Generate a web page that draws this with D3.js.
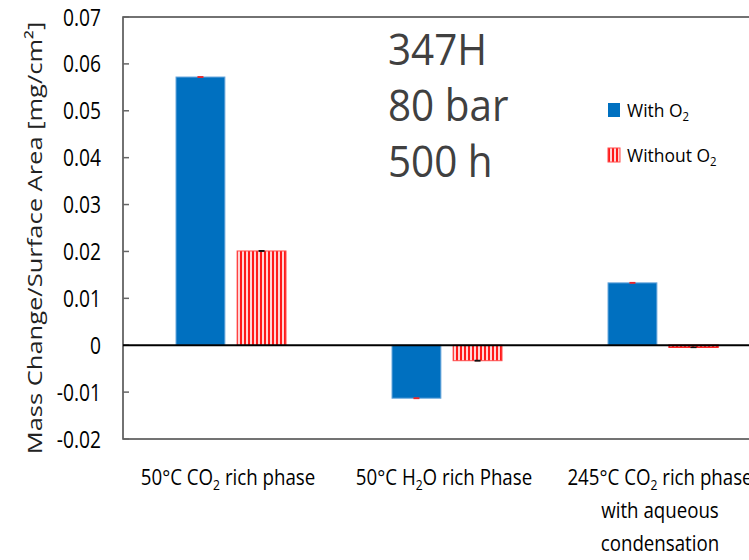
<!DOCTYPE html>
<html>
<head>
<meta charset="utf-8">
<script src="https://cdn.jsdelivr.net/npm/d3@7/dist/d3.min.js"></script>
<style>
  body { margin: 0; background: #fff; }
  svg { display: block; font-family: 'Open Sans', sans-serif; }
</style>
</head>
<body>
<svg id="chart" width="749" height="560"></svg>
<script>
// categories (label lines; middle part of each triple is a subscript)
const categories = ['c1', 'c2', 'c3'];
const categoryLines = [
  [['50°C CO', '2', ' rich phase']],
  [['50°C H', '2', 'O rich Phase']],
  [['245°C CO', '2', ' rich phase'], ['with aqueous'], ['condensation']]
];
const series = ['With O2', 'Without O2'];
const withO2 = [0.0572, -0.0113, 0.0133];
const withoutO2 = [0.0201, -0.0033, -0.0004];
const withO2Err = [0.0002, 0.0002, 0.0002];
const withoutO2Err = [0.0002, 0.0002, 0.0001];
const yTicks = [-0.02, -0.01, 0, 0.01, 0.02, 0.03, 0.04, 0.05, 0.06, 0.07];
const noteLines = ['347H', '80 bar', '500 h'];

const svg = d3.select('#chart');
const plotLeft = 123, plotTop = 17, plotBottom = 439;

const y = d3.scaleLinear().domain([-0.02, 0.07]).range([plotBottom, plotTop]);
const x = d3.scaleBand().domain(categories).range([plotLeft, plotLeft + 3 * 216]);
const xs = d3.scaleBand().domain(series).range([-55, 55]).paddingInner(0.2);

// hatch pattern for "Without O2"
const defs = svg.append('defs');
const pat = defs.append('pattern')
  .attr('id', 'vhatch')
  .attr('patternUnits', 'userSpaceOnUse')
  .attr('width', 4).attr('height', 4);
pat.append('rect').attr('width', 4).attr('height', 4).attr('fill', '#ffd6d6');
pat.append('rect').attr('x', 0).attr('width', 2).attr('height', 4).attr('fill', '#ff1a1a');

// helper: horizontally squeezed text
function sqText(g, xPos, yPos, sx, size, anchor, parts, color) {
  const t = g.append('g')
    .attr('transform', `translate(${xPos},${yPos}) scale(${sx},1)`)
    .append('text')
    .attr('text-anchor', anchor)
    .attr('font-size', size)
    .attr('fill', color || '#000');
  parts.forEach((p, i) => {
    if (i === 1) {
      t.append('tspan').attr('font-size', size * 0.65).attr('dy', size * 0.22).text(p);
    } else if (i === 2) {
      t.append('tspan').attr('dy', -size * 0.22).text(p);
    } else {
      t.append('tspan').text(p);
    }
  });
  return t;
}

// frame
svg.append('rect')
  .attr('x', plotLeft).attr('y', plotTop)
  .attr('width', 800).attr('height', plotBottom - plotTop)
  .attr('fill', 'none')
  .attr('stroke', '#444')
  .attr('stroke-width', 1.5);

// y axis ticks (inside) + labels
const yAxis = svg.append('g');
yTicks.forEach(v => {
  yAxis.append('line')
    .attr('x1', plotLeft).attr('x2', plotLeft + 6)
    .attr('y1', y(v)).attr('y2', y(v))
    .attr('stroke', '#666').attr('stroke-width', 1.5);
  sqText(yAxis, 101, y(v) + 8.5, 0.8, 24, 'end', [v === 0 ? '0' : d3.format('.2f')(v).replace('−', '-')]);
});

// y label
svg.append('g')
  .attr('transform', `translate(42,238) rotate(-90) scale(1,0.8)`)
  .append('text')
  .attr('text-anchor', 'middle')
  .attr('font-size', 25.5)
  .attr('fill', '#222')
  .text('Mass Change/Surface Area [mg/cm²]');

// bars
const rows = categories.map((c, i) => ({ c, vals: [withO2[i], withoutO2[i]], errs: [withO2Err[i], withoutO2Err[i]] }));
const grp = svg.append('g');
rows.forEach(r => {
  const cx = x(r.c) + x.bandwidth() / 2;
  series.forEach((s, j) => {
    const v = r.vals[j];
    const bx = cx + xs(s);
    const y0 = Math.min(y(0), y(v)), h = Math.abs(y(v) - y(0));
    grp.append('rect')
      .attr('x', bx).attr('y', y0)
      .attr('width', xs.bandwidth()).attr('height', Math.max(h, 2))
      .attr('fill', j === 0 ? '#0070c0' : 'url(#vhatch)')
      .attr('stroke', j === 0 ? '#6aa7dc' : (h < 4 ? '#ff2020' : '#ff4d4d'))
      .attr('stroke-width', h < 4 ? 1.5 : 1);
    // error bar
    const ex = bx + xs.bandwidth() / 2;
    const e = r.errs[j];
    grp.append('rect')
      .attr('x', ex - 3).attr('width', 6)
      .attr('y', y(v + e)).attr('height', Math.max(y(v - e) - y(v + e), 1.5))
      .attr('fill', j === 0 ? '#e8262a' : '#111');
  });
});

// zero line
svg.append('line')
  .attr('x1', plotLeft).attr('x2', 749)
  .attr('y1', y(0)).attr('y2', y(0))
  .attr('stroke', '#000').attr('stroke-width', 2);

// category labels
categoryLines.forEach((lines, i) => {
  const cx = x(categories[i]) + x.bandwidth() / 2;
  lines.forEach((parts, k) => {
    sqText(svg, cx - 3, 485 + k * 33, 0.85, 22, 'middle', parts, '#000');
  });
});

// note text
noteLines.forEach((t, k) => {
  sqText(svg, 388, 65 + k * 56, 0.94, 43, 'start', [t], '#404040');
});

// legend
const leg = svg.append('g');
series.forEach((s, j) => {
  const ly = 110 + j * 45;
  leg.append('rect')
    .attr('x', 608).attr('y', ly - 7)
    .attr('width', 12).attr('height', 14)
    .attr('fill', j === 0 ? '#0070c0' : 'url(#vhatch)')
    .attr('stroke', j === 0 ? 'none' : '#ff4d4d');
  sqText(leg, 627, ly + 7, 0.92, 19, 'start', j === 0 ? ['With O', '2', ''] : ['Without O', '2', ''], '#000');
});
</script>
</body>
</html>
